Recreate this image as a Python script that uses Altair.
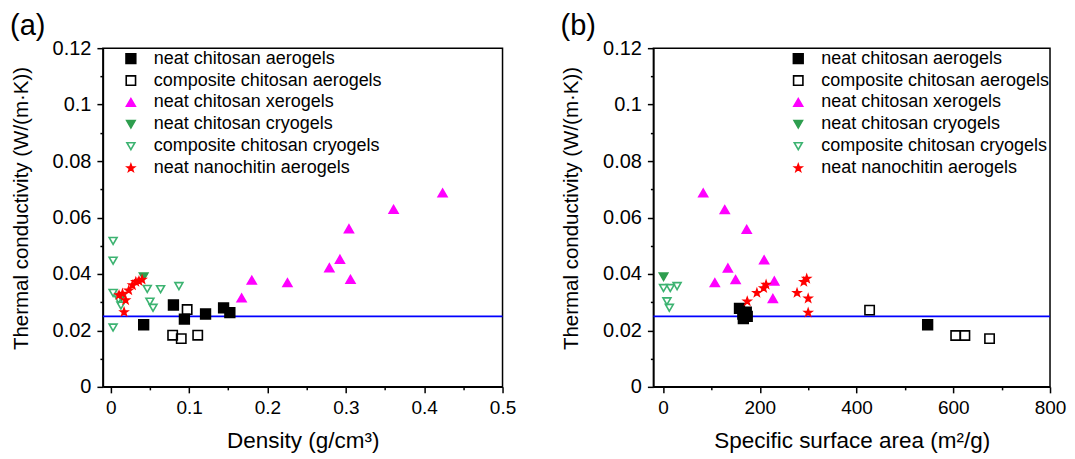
import altair as alt
import pandas as pd

FONT = "Liberation Sans"

series = ["neat chitosan aerogels", "composite chitosan aerogels", "neat chitosan xerogels",
          "neat chitosan cryogels", "composite chitosan cryogels", "neat nanochitin aerogels"]
shapes = ["square", "square", "triangle-up", "triangle-down", "triangle-down",
          "M0,-1L0.235,-0.324L0.951,-0.309L0.38,0.124L0.588,0.809L0,0.4L-0.588,0.809L-0.38,0.124L-0.951,-0.309L-0.235,-0.324Z"]
fills = ["#000000", "transparent", "#ff00ff", "#2e9e4f", "transparent", "#ff0000"]
strokes = ["#000000", "#000000", "#ff00ff", "#2e9e4f", "#3cb371", "#ff0000"]
sizes = [95, 55, 160, 160, 170, 210]

# ---- panel (a): density (g/cm3) vs thermal conductivity
a_x = {
    "neat chitosan aerogels": [0.042, 0.080, 0.094, 0.121, 0.144, 0.152],
    "composite chitosan aerogels": [0.0975, 0.079, 0.090, 0.111],
    "neat chitosan xerogels": [0.167, 0.180, 0.2255, 0.279, 0.2925, 0.306, 0.304, 0.361, 0.4235],
    "neat chitosan cryogels": [0.042, 0.0136],
    "composite chitosan cryogels": [0.003, 0.003, 0.003, 0.003, 0.010, 0.013, 0.0466, 0.0636, 0.087, 0.050, 0.054],
    "neat nanochitin aerogels": [0.017, 0.0106, 0.019, 0.015, 0.023, 0.0277, 0.032, 0.036, 0.040],
}
a_y = {
    "neat chitosan aerogels": [0.022, 0.029, 0.024, 0.0258, 0.028, 0.0263],
    "composite chitosan aerogels": [0.0274, 0.0183, 0.0171, 0.0183],
    "neat chitosan xerogels": [0.0315, 0.0378, 0.0369, 0.0422, 0.0452, 0.0381, 0.056, 0.0629, 0.0687],
    "neat chitosan cryogels": [0.039, 0.0318],
    "composite chitosan cryogels": [0.0517, 0.0447, 0.0333, 0.0210, 0.031, 0.0288, 0.0347, 0.0346, 0.0357, 0.0302, 0.0280],
    "neat nanochitin aerogels": [0.0265, 0.0325, 0.0307, 0.033, 0.0342, 0.036, 0.0372, 0.0375, 0.038],
}

# ---- panel (b): specific surface area (m2/g) vs thermal conductivity
b_x = {
    "neat chitosan aerogels": [547, 158, 172, 165, 166, 174],
    "composite chitosan aerogels": [427, 605, 624, 675],
    "neat chitosan xerogels": [83, 127.6, 173, 209, 134, 107, 150, 230, 227],
    "neat chitosan cryogels": [1],
    "composite chitosan cryogels": [1, 15, 29, 8, 13],
    "neat nanochitin aerogels": [174, 194, 208, 213, 277, 291, 297, 300, 300],
}
b_y = {
    "neat chitosan aerogels": [0.022, 0.0278, 0.0265, 0.0258, 0.0242, 0.025],
    "composite chitosan aerogels": [0.0272, 0.0182, 0.0182, 0.0171],
    "neat chitosan xerogels": [0.0687, 0.0628, 0.0558, 0.045, 0.0421, 0.0369, 0.038, 0.0375, 0.0313],
    "neat chitosan cryogels": [0.039],
    "composite chitosan cryogels": [0.035, 0.035, 0.0357, 0.0303, 0.028],
    "neat nanochitin aerogels": [0.0303, 0.0333, 0.035, 0.0362, 0.0333, 0.0372, 0.0383, 0.0313, 0.0263],
}

air_k = [0.025]

y_ticks = [0, 0.01, 0.02, 0.03, 0.04, 0.05, 0.06, 0.07, 0.08, 0.09, 0.1, 0.11, 0.12]
a_ticks = [0, 0.05, 0.1, 0.15, 0.2, 0.25, 0.3, 0.35, 0.4, 0.45, 0.5]
b_ticks = [0, 100, 200, 300, 400, 500, 600, 700, 800]


def frame(xd, yd):
    rows = []
    for s in series:
        for xv, yv in zip(xd[s], yd[s]):
            rows.append({"x": xv, "k": yv, "series": s})
    return pd.DataFrame(rows)


def y_enc():
    return alt.Y(
        "k:Q",
        title="Thermal conductivity (W/(m·K))",
        scale=alt.Scale(domain=[0, 0.12], nice=False, zero=False),
        axis=alt.Axis(
            values=y_ticks,
            labelExpr="(round(datum.value*100) % 2 == 0) ? format(datum.value, '~g') : ''",
            tickSize={"condition": {"test": "round(datum.value*100) % 2 == 0", "value": 6}, "value": 3},
            labelPadding=6,
            titlePadding=21,
            labelFontSize=20,
            titleFontSize=20.5,
            titleY=160,
        ),
    )


def panel(df, xdomain, xticks, test, xtitle, tag, lx, ly, w):
    xenc = alt.X(
        "x:Q",
        title=xtitle,
        scale=alt.Scale(domain=xdomain, nice=False, zero=False),
        axis=alt.Axis(
            values=xticks,
            labelExpr="(" + test + ") ? format(datum.value, '~g') : ''",
            tickSize={"condition": {"test": test, "value": 6}, "value": 3},
            labelPadding=6,
            titlePadding=12,
            labelFontSize=19,
            titleFontSize=22.5,
        ),
    )
    leg = alt.Legend(
        title=None, orient="none", legendX=lx, legendY=ly,
        labelFont=FONT, labelFontSize=18, labelColor="black", labelLimit=400,
        symbolStrokeWidth=1.6, rowPadding=3.9, labelOffset=14, padding=0,
    )
    rule = alt.Chart(pd.DataFrame({"k": air_k})).mark_rule(color="#0000ff", strokeWidth=1.8).encode(y=y_enc())
    pts = alt.Chart(df).mark_point(opacity=1, strokeWidth=1.6).encode(
        x=xenc,
        y=y_enc(),
        shape=alt.Shape("series:N", scale=alt.Scale(domain=series, range=shapes), legend=leg),
        fill=alt.Fill("series:N", scale=alt.Scale(domain=series, range=fills), legend=leg),
        stroke=alt.Stroke("series:N", scale=alt.Scale(domain=series, range=strokes), legend=leg),
        size=alt.Size("series:N", scale=alt.Scale(domain=series, range=sizes), legend=leg),
    )
    lab = alt.Chart(pd.DataFrame({"tag": [tag]})).mark_text(
        font=FONT, fontSize=29, align="left", baseline="alphabetic", color="black"
    ).encode(text="tag:N", x=alt.value(-93), y=alt.value(-13))
    return alt.layer(rule, pts, lab).properties(width=w, height=339)


pa = panel(frame(a_x, a_y), [-0.01, 0.5], a_ticks, "round(datum.value*100) % 10 == 0",
           "Density (g/cm³)", "(a)", 19, 1.5, 400)
pb = panel(frame(b_x, b_y), [-20, 800], b_ticks, "datum.value % 200 == 0",
           "Specific surface area (m²/g)", "(b)", 136, 1.5, 397)

chart = alt.hconcat(pa, pb, spacing=151, bounds="flush").resolve_scale(
    shape="independent", fill="independent", stroke="independent", size="independent"
).resolve_legend(
    shape="independent", fill="independent", stroke="independent", size="independent"
).properties(
    padding={"left": 1, "top": 3, "right": 0, "bottom": 0}
).configure_axis(
    labelFont=FONT, titleFont=FONT,
    labelColor="black", titleColor="black", tickColor="black", domainColor="black",
    domainWidth=1.5, tickWidth=1.5, grid=False, titleFontWeight="normal", labelFlush=False,
).configure_view(stroke="black", strokeWidth=1.5)

chart.save("out.html", embed_options={"renderer": "svg", "actions": False})
